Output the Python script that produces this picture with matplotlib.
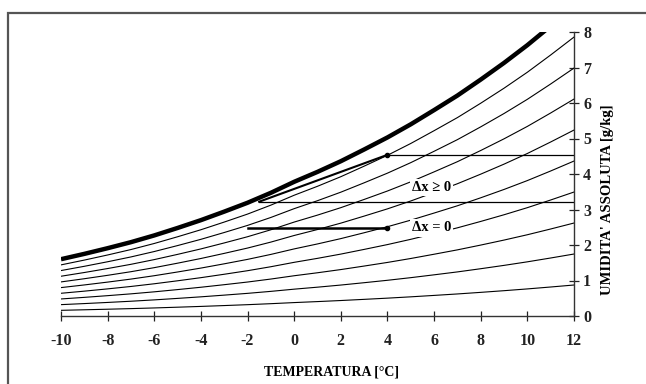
import matplotlib
matplotlib.use("Agg")
from matplotlib import pyplot as plt
from matplotlib.patches import Rectangle
import numpy as np

# temperature [C] and saturation absolute humidity [g/kg] (thick curve)
temp = [-10, -9, -8, -7, -6, -5, -4, -3, -2, -1, 0, 1,
        2, 3, 4, 5, 6, 7, 8, 9, 10, 11, 12]
x_sat = [1.60, 1.75, 1.91, 2.08, 2.27, 2.48, 2.70, 2.94, 3.19, 3.47, 3.78, 4.06,
         4.36, 4.69, 5.03, 5.40, 5.80, 6.21, 6.66, 7.13, 7.63, 8.17, 8.73]
# relative humidity levels of the thin curves
rh_levels = [0.1, 0.2, 0.3, 0.4, 0.5, 0.6, 0.7, 0.8, 0.9]

# process lines
proc1_x = [-1.5, 4.0]      # humidification with dx > 0
proc1_y = [3.22, 4.54]
hline1_y = 4.54
hline2_y = 3.22
proc2_x = [-2.0, 4.0]      # heating with dx = 0
proc2_y = [2.48, 2.48]

xticks = list(range(-10, 13, 2))
yticks = list(range(0, 9))

plt.rcParams['font.family'] = ['Liberation Serif', 'DejaVu Serif']

fig = plt.figure(figsize=(6.46, 3.84), dpi=100)
fig.patches.append(Rectangle((8/646, -0.1), 1.2, 1.1 - 13/384, transform=fig.transFigure,
                             fill=False, edgecolor='#555555', lw=1.6))
ax = fig.add_axes([61/646, 1-316/384, 513/646, 284/384])

T = np.array(temp)
xs = np.array(x_sat)
for rh in rh_levels:
    ax.plot(T, rh*xs, color='black', lw=0.8)
ax.plot(T, xs, color='black', lw=3.2, solid_capstyle='butt')

# process lines
ax.plot(proc1_x, proc1_y, color='black', lw=1.5)
ax.plot([proc1_x[1], 12], [hline1_y, hline1_y], color='black', lw=0.9)
ax.plot([proc1_x[0], 12], [hline2_y, hline2_y], color='black', lw=0.9)
ax.plot(proc2_x, proc2_y, color='black', lw=1.8)
ax.plot([proc1_x[1], proc2_x[1]], [proc1_y[1], proc2_y[1]], 'o', color='black', ms=3)

ax.text(5.9, 3.63, 'Δx ≥ 0', fontsize=10.5, ha='center', va='center', fontweight='bold',
        bbox=dict(facecolor='white', edgecolor='none', pad=1.5))
ax.text(5.9, 2.48, 'Δx = 0', fontsize=10.5, ha='center', va='center', fontweight='bold',
        bbox=dict(facecolor='white', edgecolor='none', pad=1.5))

ax.set_xlim(-10, 12)
ax.set_ylim(0, 8)
ax.set_xticks(xticks)
ax.set_xticklabels([str(v) for v in xticks])
ax.set_yticks(yticks)
for s in ['top', 'left']:
    ax.spines[s].set_visible(False)
for s in ['bottom', 'right']:
    ax.spines[s].set_linewidth(1.0)
    ax.spines[s].set_color('#333333')
ax.yaxis.tick_right()
ax.tick_params(direction='inout', length=7, width=0.9, labelsize=11.5, colors='#222222')
ax.tick_params(axis='x', pad=9)
ax.tick_params(axis='y', pad=3)
for lab in ax.get_xticklabels() + ax.get_yticklabels():
    lab.set_fontweight('bold')

fig.text(331/646, 1-372/384, 'TEMPERATURA [°C]', ha='center', va='center',
         fontsize=10, fontweight='bold')
fig.text(607/646, 1-200/384, "UMIDITA' ASSOLUTA [g/kg]", ha='center', va='center',
         rotation=90, fontsize=10.5, fontweight='bold')

fig.savefig('out.png', dpi=100)
